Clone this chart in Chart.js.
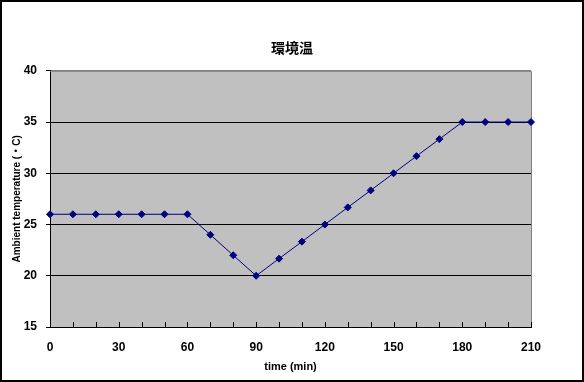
<!DOCTYPE html>
<html>
<head>
<meta charset="utf-8">
<script src="https://cdn.jsdelivr.net/npm/chart.js@4"></script>
<style>
  body { margin: 0; background: #fff; }
  #wrap { width: 584px; height: 382px; }
</style>
</head>
<body>
<div id="wrap"><canvas id="grafico" width="584" height="382"></canvas></div>
<script>
// datos del grafico
const tiempos = ['0','10','20','30','40','50','60','70','80','90','100','110','120','130','140','150','160','170','180','190','200','210'];
const temperaturas = [26, 26, 26, 26, 26, 26, 26, 24, 22, 20, 21.67, 23.33, 25, 26.67, 28.33, 30, 31.67, 33.33, 35, 35, 35, 35];
const yMin = 15, yMax = 40, yPaso = 5;
const etiquetaCada = 30;

const fuente = "'Liberation Sans', 'Noto Sans CJK JP', sans-serif";

// fondo gris del area, borde exterior y marcas del eje x hacia adentro
const estiloExcel = {
    id: 'estiloExcel',
    beforeDraw(chart) {
        const { ctx, chartArea: a } = chart;
        ctx.save();
        ctx.fillStyle = '#fff';
        ctx.fillRect(0, 0, chart.width, chart.height);
        ctx.fillStyle = '#c0c0c0';
        ctx.fillRect(a.left, a.top, a.right - a.left, a.bottom - a.top);
        ctx.restore();
    },
    beforeDatasetsDraw(chart) {
        const { ctx, chartArea: a, scales } = chart;
        ctx.save();
        ctx.strokeStyle = '#808080';
        ctx.lineWidth = 1;
        ctx.beginPath();
        ctx.moveTo(a.left, a.top + 0.5);
        ctx.lineTo(a.right + 0.5, a.top + 0.5);
        ctx.lineTo(a.right + 0.5, a.bottom);
        ctx.stroke();
        ctx.strokeStyle = '#000';
        ctx.beginPath();
        tiempos.forEach((t, i) => {
            const x = Math.round(scales.x.getPixelForValue(i)) + 0.5;
            ctx.moveTo(x, a.bottom);
            ctx.lineTo(x, a.bottom - 5);
        });
        ctx.stroke();
        ctx.restore();
    },
    afterDraw(chart) {
        const ctx = chart.ctx;
        ctx.save();
        ctx.strokeStyle = '#000';
        ctx.lineWidth = 2;
        ctx.strokeRect(1, 1, chart.width - 2, chart.height - 2);
        ctx.restore();
    }
};

const ctx = document.getElementById('grafico').getContext('2d');
new Chart(ctx, {
    type: 'line',
    data: {
        labels: tiempos,
        datasets: [{
            label: '環境温',
            data: temperaturas,
            borderColor: '#000080',
            backgroundColor: '#000080',
            borderWidth: 1,
            pointStyle: 'rectRot',
            pointRadius: 3.5,
            pointBorderWidth: 1,
            tension: 0
        }]
    },
    options: {
        responsive: false,
        animation: false,
        layout: { padding: 0 },
        plugins: {
            legend: { display: false },
            tooltip: { enabled: false },
            title: {
                display: true,
                text: '環境温',
                color: '#000',
                font: { family: fuente, size: 14, weight: 'bold' },
                padding: { top: 41, bottom: 13 }
            }
        },
        scales: {
            x: {
                type: 'category',
                offset: false,
                afterFit(scale) { scale.height = 55; },
                grid: { drawOnChartArea: false, drawTicks: false, color: '#000' },
                border: { color: '#000', width: 1 },
                ticks: {
                    autoSkip: false,
                    maxRotation: 0,
                    padding: 13,
                    color: '#000',
                    font: { family: fuente, size: 12, weight: 'bold' },
                    callback: function (v, i) {
                        const t = Number(tiempos[i]);
                        return t % etiquetaCada === 0 ? tiempos[i] : '';
                    }
                },
                title: {
                    display: true,
                    text: 'time (min)',
                    color: '#000',
                    font: { family: fuente, size: 11, weight: 'bold' },
                    padding: { top: 8, bottom: 8 }
                }
            },
            y: {
                min: yMin,
                max: yMax,
                afterFit(scale) { scale.width = 50; },
                grid: {
                    color: c => (c.tick && c.tick.value === yMax) ? '#808080' : '#000',
                    tickColor: '#000',
                    tickLength: 4
                },
                border: { color: '#000', width: 1 },
                ticks: {
                    stepSize: yPaso,
                    padding: 9,
                    color: '#000',
                    font: { family: fuente, size: 12, weight: 'bold' }
                },
                title: {
                    display: true,
                    text: 'Ambient temperature (・C)',
                    color: '#000',
                    font: { family: fuente, size: 10, weight: 'bold' },
                    padding: { top: 11, bottom: 2 }
                }
            },
            // eje vacio a la derecha solo para dejar el margen
            margenDer: {
                position: 'right',
                min: yMin,
                max: yMax,
                afterFit(scale) { scale.width = 53; },
                grid: { display: false },
                border: { display: false },
                ticks: { display: false }
            }
        }
    },
    plugins: [estiloExcel]
});
</script>
</body>
</html>
